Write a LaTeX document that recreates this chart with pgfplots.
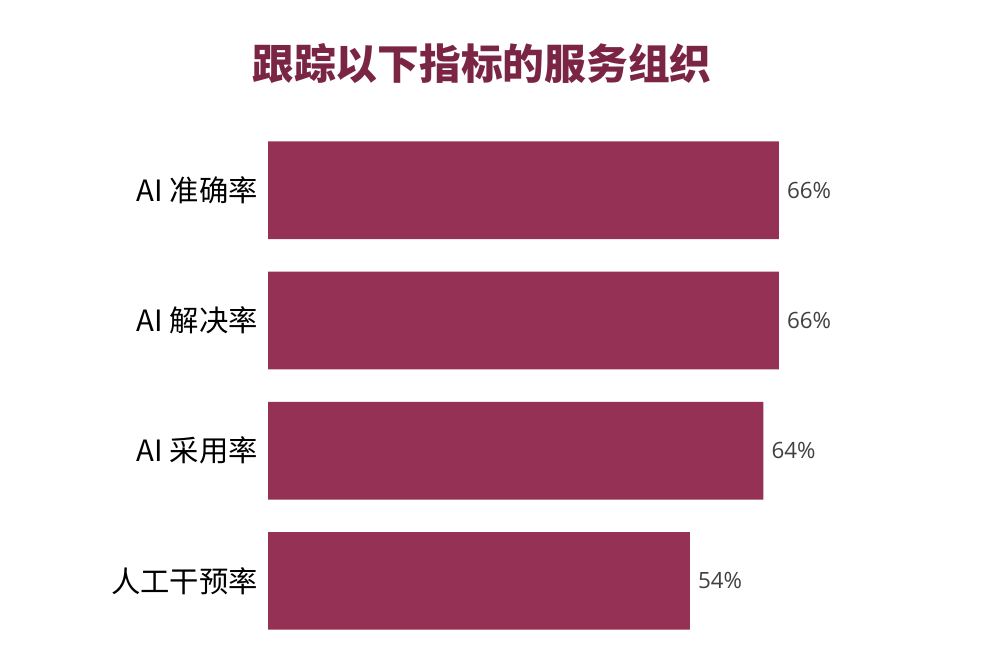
\documentclass[border=0pt]{standalone}
\usepackage{pgfplots}
\pgfplotsset{compat=1.18}
\usepackage{fontspec}
\setmainfont{Open Sans}
\newfontfamily\cjk{Noto Sans CJK SC}
\definecolor{barc}{HTML}{953154}
\definecolor{titlec}{HTML}{7B2545}
\definecolor{valc}{HTML}{404040}
\begin{document}
\begin{tikzpicture}
\useasboundingbox (0,0) rectangle (750pt,499.5pt);
\begin{axis}[
  at={(201pt,15pt)}, anchor=south west,
  scale only axis, width=522.45pt, height=390.6pt,
  xbar, xmin=0, xmax=90, ymin=-0.5, ymax=3.5,
  bar width=0.75,
  axis line style={draw=none},
  xtick=\empty,
  ytick={0,1,2,3},
  yticklabels={人工干预率, AI 采用率, AI 解决率, AI 准确率},
  ytick style={draw=none},
  major tick length=0pt,
  yticklabel style={font=\cjk\fontsize{22}{24}\selectfont, text=black, anchor=east, inner sep=0pt, xshift=-7.5pt},
  point meta=explicit symbolic,
  nodes near coords,
  every node near coord/.append style={anchor=west, inner sep=0pt, xshift=6pt, text=valc, font=\fontsize{16.8}{18}\selectfont},
  clip=false,
]
\addplot[fill=barc, draw=none] coordinates {
  (54.5,0) [54\%]
  (64,1) [64\%]
  (66,2) [66\%]
  (66,3) [66\%]
};
\end{axis}
\node[text=titlec, font=\cjk\bfseries\fontsize{31.3}{36}\selectfont] at (361.5pt,451.5pt) {跟踪以下指标的服务组织};
\end{tikzpicture}
\end{document}
